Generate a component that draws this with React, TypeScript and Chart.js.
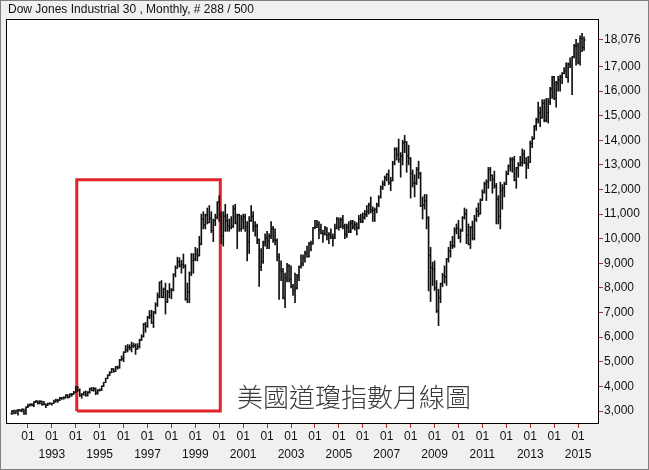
import React, { useEffect, useRef } from "react";
import { Chart, registerables } from "chart.js";

Chart.register(...registerables);

// First bar: May 1991, 288 monthly bars up to April 2015
const firstYear = 1991;
const firstMonth = 5;
const firstOpen = 2888;

const closes = [
  2987, 2907, 3025, 3044, 3017, 3069, 2895, 3169,
  3223, 3268, 3235, 3359, 3397, 3319, 3394, 3257, 3272, 3226, 3305, 3301,
  3310, 3371, 3435, 3428, 3527, 3516, 3539, 3651, 3555, 3681, 3684, 3754,
  3978, 3832, 3636, 3682, 3758, 3625, 3765, 3913, 3843, 3908, 3739, 3834,
  3844, 4011, 4158, 4321, 4465, 4556, 4708, 4611, 4789, 4755, 5074, 5117,
  5395, 5486, 5587, 5569, 5643, 5655, 5529, 5616, 5882, 6029, 6522, 6448,
  6813, 6878, 6583, 7009, 7331, 7673, 8223, 7622, 7945, 7442, 7823, 7908,
  7907, 8546, 8800, 9063, 8900, 8952, 8883, 7539, 7843, 8592, 9117, 9181,
  9359, 9307, 9786, 10789, 10560, 10971, 10655, 10829, 10337, 10730, 10878, 11497,
  10941, 10128, 10922, 10734, 10522, 10448, 10522, 11215, 10651, 10971, 10414, 10787,
  10887, 10495, 9879, 10735, 10912, 10502, 10523, 9950, 8848, 9075, 9852, 10022,
  9920, 10106, 10404, 9946, 9925, 9243, 8737, 8664, 7592, 8397, 8896, 8342,
  8054, 7891, 7992, 8480, 8850, 8985, 9234, 9416, 9275, 9801, 9782, 10454,
  10488, 10584, 10358, 10226, 10188, 10435, 10140, 10174, 10080, 10027, 10428, 10783,
  10490, 10766, 10504, 10193, 10467, 10275, 10641, 10482, 10569, 10440, 10806, 10718,
  10865, 10993, 11109, 11367, 11168, 11150, 11186, 11381, 11679, 12081, 12222, 12463,
  12622, 12269, 12354, 13063, 13628, 13409, 13212, 13358, 13896, 13930, 13372, 13265,
  12650, 12266, 12263, 12820, 12638, 11350, 11378, 11544, 10851, 9325, 8829, 8776,
  8001, 7063, 7609, 8168, 8500, 8447, 9172, 9496, 9712, 9713, 10345, 10428,
  10067, 10325, 10857, 11009, 10137, 9774, 10466, 10015, 10788, 11118, 11006, 11578,
  11892, 12226, 12320, 12811, 12570, 12414, 12143, 11614, 10913, 11955, 12046, 12218,
  12633, 12952, 13212, 13214, 12393, 12880, 13009, 13091, 13437, 13096, 13026, 13104,
  13861, 14054, 14579, 14840, 15116, 14910, 15500, 14810, 15130, 15546, 16086, 16577,
  15699, 16322, 16458, 16581, 16717, 16827, 16563, 17098, 17043, 17391, 17828, 17823,
  17165, 18133, 17776, 18076,
];

const highs = [
  3027, 3036, 3037, 3063, 3055, 3090, 3077, 3173,
  3285, 3290, 3300, 3380, 3420, 3410, 3420, 3400, 3395, 3290, 3320, 3345,
  3325, 3445, 3480, 3480, 3560, 3560, 3580, 3665, 3660, 3700, 3715, 3800,
  4000, 3990, 3900, 3710, 3780, 3820, 3790, 3930, 3960, 3960, 3940, 3870,
  3900, 4020, 4170, 4340, 4470, 4600, 4730, 4720, 4810, 4830, 5100, 5240,
  5410, 5660, 5700, 5690, 5800, 5760, 5730, 5740, 5920, 6100, 6560, 6600,
  6850, 7080, 7100, 7050, 7400, 7800, 8250, 8300, 8000, 8200, 7900, 8180,
  7980, 8580, 8900, 9250, 9230, 9120, 9380, 8950, 8200, 8650, 9400, 9400,
  9650, 9600, 10100, 11000, 11100, 11000, 11250, 11350, 11100, 10800, 11000, 11500,
  11750, 11100, 11100, 11400, 11000, 10800, 10900, 11350, 11400, 11000, 11000, 10950,
  11000, 11000, 10700, 10900, 11350, 11100, 10700, 10600, 10000, 9600, 9900, 10200,
  10300, 10200, 10700, 10500, 10400, 10000, 9400, 9100, 8800, 8600, 9000, 8950,
  8900, 8150, 8600, 8550, 8900, 9350, 9350, 9500, 9700, 9850, 9900, 10460,
  10750, 10750, 10700, 10600, 10350, 10500, 10450, 10250, 10400, 10200, 10600, 10870,
  10850, 10850, 10950, 10600, 10600, 10700, 10750, 10750, 10700, 10650, 10950, 11000,
  11050, 11150, 11350, 11450, 11700, 11300, 11250, 11450, 11750, 12150, 12350, 12550,
  12650, 12800, 12500, 13150, 13700, 13700, 14050, 13500, 14000, 14200, 13950, 13800,
  13300, 12800, 12600, 12900, 13150, 12700, 11700, 11800, 11800, 10900, 9650, 9050,
  9100, 8300, 7950, 8200, 8600, 8900, 9200, 9650, 9900, 10100, 10450, 10600,
  10750, 10400, 10900, 11250, 11200, 10600, 10500, 10720, 10950, 11250, 11450, 11620,
  11990, 12300, 12400, 12900, 12900, 12600, 12750, 12250, 11750, 12300, 12200, 12300,
  12750, 13000, 13300, 13300, 13350, 12900, 13100, 13350, 13650, 13600, 13300, 13350,
  13970, 14150, 14600, 14900, 15550, 15350, 15650, 15650, 15700, 15700, 16150, 16600,
  16600, 16400, 16600, 16650, 16750, 16950, 17150, 17150, 17350, 17400, 17900, 18100,
  17950, 18250, 18350, 18200,
];

const lows = [
  2865, 2880, 2900, 2834, 2985, 2960, 2860, 2865,
  3140, 3195, 3205, 3180, 3340, 3280, 3290, 3235, 3245, 3140, 3220, 3270,
  3240, 3310, 3360, 3350, 3420, 3470, 3480, 3530, 3520, 3560, 3600, 3670,
  3740, 3800, 3590, 3520, 3640, 3600, 3610, 3720, 3820, 3800, 3660, 3680,
  3810, 3830, 3990, 4150, 4310, 4430, 4560, 4570, 4600, 4700, 4740, 5050,
  5000, 5370, 5400, 5480, 5400, 5580, 5300, 5500, 5560, 5860, 6000, 6200,
  6400, 6750, 6560, 6390, 6950, 7250, 7600, 7600, 7600, 6940, 7400, 7600,
  7560, 7880, 8450, 8800, 8850, 8600, 8800, 7500, 7400, 7400, 8500, 8600,
  9100, 9100, 9300, 9750, 10400, 10400, 10600, 10650, 10250, 9880, 10530, 10800,
  10700, 9800, 9700, 10300, 10300, 10300, 10400, 10450, 10600, 9600, 10300, 10300,
  10400, 10300, 9100, 9400, 10700, 10300, 10100, 9800, 8060, 8700, 9000, 9700,
  9600, 9600, 10000, 9850, 9750, 9100, 7530, 8300, 7550, 7200, 8250, 8250,
  8000, 7700, 7400, 7950, 8300, 8800, 8900, 9050, 9250, 9250, 9500, 9780,
  10400, 10450, 10000, 10200, 9850, 10150, 9950, 9800, 10000, 9700, 10000, 10400,
  10350, 10450, 10400, 10000, 10050, 10250, 10250, 10400, 10350, 10150, 10400, 10650,
  10650, 10800, 10900, 11000, 11050, 10700, 10700, 11050, 11300, 11650, 12000, 12150,
  12350, 12200, 11950, 12350, 13000, 13200, 13100, 12500, 13000, 13500, 12700, 13000,
  11650, 12100, 11700, 12200, 12450, 11300, 10800, 11200, 10400, 7880, 7450, 8100,
  7900, 7000, 6470, 7400, 8050, 8200, 8100, 9050, 9250, 9600, 9650, 10200,
  10000, 9850, 10300, 10800, 9800, 9750, 9600, 9950, 9950, 10700, 10900, 11000,
  11550, 11850, 11550, 12050, 12350, 11850, 12050, 10600, 10600, 10400, 11200, 11700,
  12200, 12600, 12750, 12700, 12350, 12050, 12500, 12950, 12950, 13050, 12450, 12850,
  13100, 13700, 14050, 14400, 14700, 14550, 14900, 14750, 14750, 14700, 15450, 15700,
  15650, 15350, 16000, 16000, 16300, 16700, 16550, 16350, 16950, 15850, 17350, 17050,
  17100, 17050, 17600, 17650,
];

// monthly open = previous month's close
const opens = [firstOpen, ...closes.slice(0, -1)];

const yTickValues = [3000, 4000, 5000, 6000, 7000, 8000, 9000, 10000, 11000, 12000, 13000, 14000, 15000, 16000, 17000, 18076];
const xTickYears = [1992, 1993, 1994, 1995, 1996, 1997, 1998, 1999, 2000, 2001, 2002, 2003, 2004, 2005, 2006, 2007, 2008, 2009, 2010, 2011, 2012, 2013, 2014, 2015];
const yearLabelYears = [1993, 1995, 1997, 1999, 2001, 2003, 2005, 2007, 2009, 2011, 2013, 2015];

const highlightFrom = [1994, 1];
const highlightTo = [2000, 1];
const highlightValues = [3000, 12400];

const titleText = "Dow Jones Industrial 30 , Monthly, # 288 / 500";
const noteText = "美國道瓊指數月線圖";

const monthIndex = (y: number, m: number) => (y - firstYear) * 12 + (m - firstMonth);

const FONT = "'Liberation Sans', Arial, sans-serif";

export default function App() {
  const ref = useRef<HTMLCanvasElement | null>(null);

  useEffect(() => {
    if (!ref.current) return;
    const barData = closes.map((_, i) => ({ x: i, y: [lows[i], highs[i]] }));
    const openData = opens.map((v, i) => ({ x: i - 0.5, y: v }));
    const closeData = closes.map((v, i) => ({ x: i + 0.5, y: v }));
    const a = monthIndex(highlightFrom[0], highlightFrom[1]) + 0.5;
    const b = monthIndex(highlightTo[0], highlightTo[1]) + 0.5;
    const [lo, hi] = highlightValues;
    const rectData = [
      { x: a, y: lo }, { x: b, y: lo }, { x: b, y: hi }, { x: a, y: hi }, { x: a, y: lo },
    ];

    const framePlugin = {
      id: "frame",
      beforeDraw(chart: any) {
        const { ctx, width, height, chartArea } = chart;
        ctx.save();
        ctx.fillStyle = "#f0f0f0";
        ctx.fillRect(0, 0, width, height);
        ctx.strokeStyle = "#808080";
        ctx.lineWidth = 1;
        ctx.strokeRect(0.5, 0.5, width - 1, height - 1);
        ctx.fillStyle = "#ffffff";
        ctx.fillRect(chartArea.left, chartArea.top, chartArea.right - chartArea.left, chartArea.bottom - chartArea.top);
        ctx.restore();
      },
      afterDraw(chart: any) {
        const { ctx, chartArea } = chart;
        ctx.save();
        ctx.strokeStyle = "#000000";
        ctx.lineWidth = 1;
        ctx.strokeRect(chartArea.left + 0.5, chartArea.top + 0.5, chartArea.right - chartArea.left - 1, chartArea.bottom - chartArea.top - 1);
        ctx.fillStyle = "#111111";
        ctx.font = `12px ${FONT}`;
        ctx.textBaseline = "alphabetic";
        ctx.textAlign = "left";
        ctx.fillText(titleText, 8, 13);
        ctx.fillStyle = "#3a3a3a";
        ctx.font = `300 26px 'Noto Sans CJK TC', 'Noto Sans CJK SC', sans-serif`;
        ctx.textBaseline = "middle";
        ctx.fillText(noteText, 237, 397);
        ctx.restore();
      },
    };

    const chart = new Chart(ref.current, {
      type: "bar",
      data: {
        datasets: [
          {
            type: "bar",
            data: barData as any,
            backgroundColor: "#111111",
            borderWidth: 0,
            barThickness: 1,
            grouped: false,
          } as any,
          {
            type: "scatter",
            data: openData,
            pointStyle: "line",
            radius: 0.9,
            borderWidth: 1,
            borderColor: "#333333",
            showLine: false,
          } as any,
          {
            type: "scatter",
            data: closeData,
            pointStyle: "line",
            radius: 0.9,
            borderWidth: 1,
            borderColor: "#333333",
            showLine: false,
          } as any,
          {
            type: "line",
            data: rectData,
            borderColor: "#e0242a",
            borderWidth: 3,
            pointRadius: 0,
            tension: 0,
            borderJoinStyle: "miter",
            fill: false,
          } as any,
        ],
      },
      options: {
        responsive: false,
        animation: false,
        events: [],
        layout: { padding: { left: 6, top: 19, right: 0, bottom: 0 } },
        plugins: {
          legend: { display: false },
          tooltip: { enabled: false },
          title: { display: false },
        },
        scales: {
          x: {
            type: "linear",
            min: -3,
            max: 294.5,
            offset: false,
            grid: { display: true, offset: false, drawOnChartArea: false, drawTicks: true, tickLength: 4, tickColor: "#b03030", color: "#b03030" },
            border: { display: false },
            afterBuildTicks: (scale: any) => {
              scale.ticks = xTickYears.map((y) => ({ value: monthIndex(y, 1) }));
            },
            afterFit: (scale: any) => {
              scale.height = 46;
            },
            ticks: {
              autoSkip: false,
              maxRotation: 0,
              minRotation: 0,
              padding: 0,
              color: "#111111",
              font: { family: FONT, size: 12, lineHeight: 1.5 },
              callback: (value: any) => {
                const idx = Number(value);
                const year = firstYear + Math.floor((idx + firstMonth - 1) / 12);
                return yearLabelYears.includes(year) ? ["01", String(year)] : "01";
              },
            },
          },
          y: {
            type: "linear",
            position: "right",
            min: 2472,
            max: 18929,
            beginAtZero: false,
            grid: { display: true, drawOnChartArea: false, drawTicks: true, tickLength: 4, tickColor: "#b03030", color: "#b03030" },
            border: { display: false },
            afterBuildTicks: (scale: any) => {
              scale.ticks = yTickValues.map((v) => ({ value: v }));
            },
            afterFit: (scale: any) => {
              scale.width = 50;
            },
            ticks: {
              autoSkip: false,
              padding: 1,
              color: "#111111",
              font: { family: FONT, size: 12 },
              callback: (value: any) => Number(value).toLocaleString("en-US"),
            },
          },
        },
      },
      plugins: [framePlugin],
    });

    return () => chart.destroy();
  }, []);

  return (
    <div style={{ position: "fixed", left: 0, top: 0, width: 649, height: 470 }}>
      <canvas ref={ref} width={649} height={470} />
    </div>
  );
}
